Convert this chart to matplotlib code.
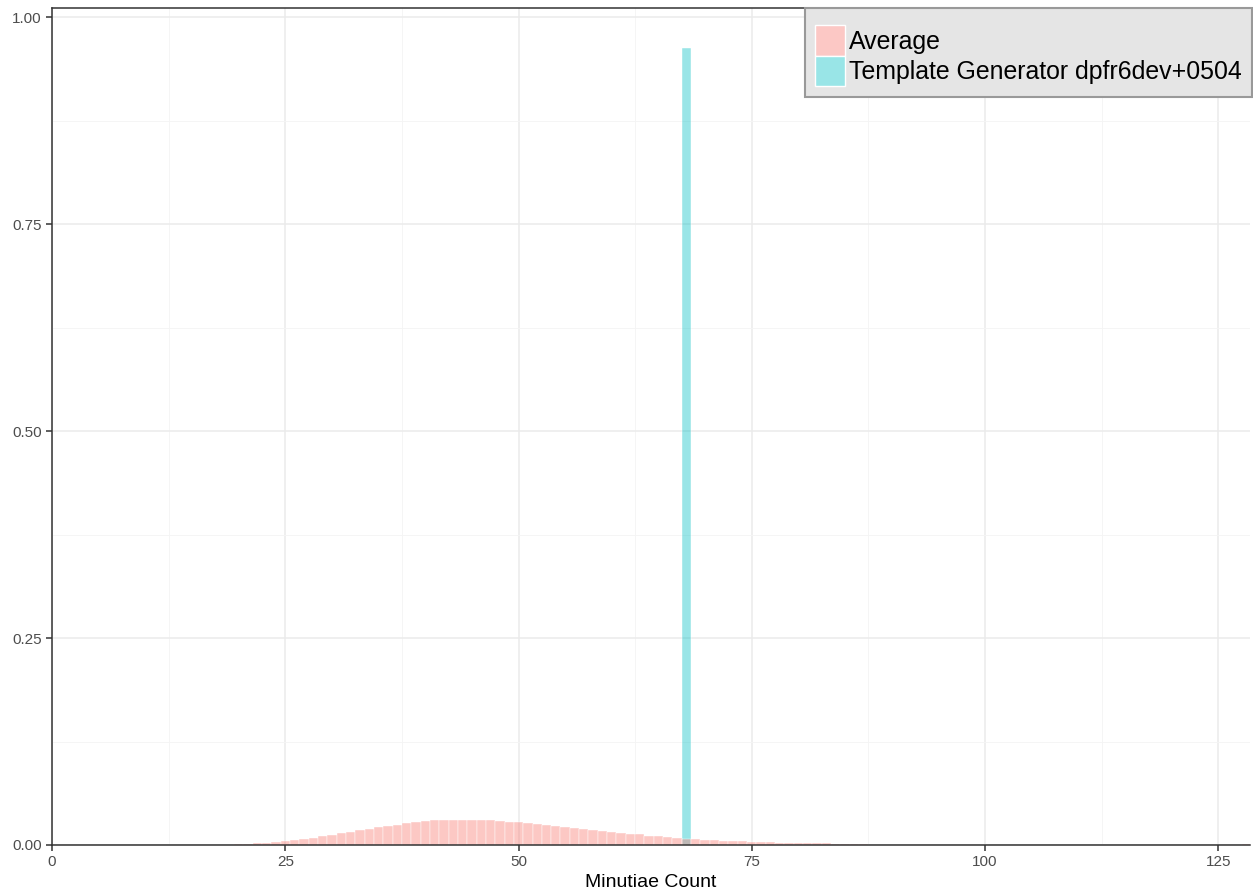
import matplotlib
matplotlib.use("Agg")
import matplotlib.pyplot as plt
from matplotlib.patches import Patch
from matplotlib.ticker import MultipleLocator, FuncFormatter

plt.rcParams['font.family'] = ['Liberation Sans', 'DejaVu Sans']

# histogram de densidade (largura de bin = 1)
avg_bins = [20, 21, 22, 23, 24, 25, 26, 27, 28, 29, 30, 31, 32, 33, 34, 35, 36, 37, 38, 39,
            40, 41, 42, 43, 44, 45, 46, 47, 48, 49, 50, 51, 52, 53, 54, 55, 56, 57, 58, 59,
            60, 61, 62, 63, 64, 65, 66, 67, 68, 69, 70, 71, 72, 73, 74, 75, 76, 77, 78, 79,
            80, 81, 82, 83, 84, 85, 86, 87, 128]
avg_density = [0.0012, 0.0012, 0.0024, 0.0024, 0.0036, 0.0048, 0.0060, 0.0077, 0.0089, 0.0109,
               0.0121, 0.0145, 0.0157, 0.0181, 0.0197, 0.0217, 0.0230, 0.0242, 0.0262, 0.0278,
               0.0290, 0.0302, 0.0302, 0.0302, 0.0302, 0.0302, 0.0302, 0.0298, 0.0286, 0.0274,
               0.0276, 0.0266, 0.0254, 0.0242, 0.0230, 0.0217, 0.0205, 0.0193, 0.0181, 0.0169,
               0.0157, 0.0145, 0.0133, 0.0133, 0.0109, 0.0109, 0.0097, 0.0085, 0.0072, 0.0072,
               0.0060, 0.0060, 0.0048, 0.0048, 0.0048, 0.0036, 0.0036, 0.0036, 0.0024, 0.0024,
               0.0024, 0.0024, 0.0024, 0.0024, 0.0012, 0.0012, 0.0012, 0.0012, 0.0008]

tg_bins = [68]
tg_density = [0.963]

labels = ['Average', 'Template Generator dpfr6dev+0504']
pink = (248/255, 118/255, 109/255, 0.4)
cyan = (0/255, 191/255, 196/255, 0.4)
# mesma cor sobre fundo branco (para a legenda)
pink_key = '#FCC8C5'
cyan_key = '#99E5E7'

W, H = 1253, 892
fig = plt.figure(figsize=(W/100, H/100), dpi=100)
ax = fig.add_axes([52/W, (H-845)/H, (1250-52)/W, (845-8)/H])

ax.bar(tg_bins, tg_density, width=1, color=cyan, edgecolor='white', linewidth=0.3, zorder=2)
ax.bar(avg_bins, avg_density, width=1, color=pink, edgecolor='white', linewidth=0.3, zorder=3)

ax.set_xlim(0, 128.4)
ax.set_ylim(0, 1.011)
ax.xaxis.set_major_locator(MultipleLocator(25))
ax.xaxis.set_minor_locator(MultipleLocator(12.5))
ax.yaxis.set_major_locator(MultipleLocator(0.25))
ax.yaxis.set_minor_locator(MultipleLocator(0.125))
ax.yaxis.set_major_formatter(FuncFormatter(lambda v, p: '%.2f' % v))

ax.grid(which='major', color='#EBEBEB', linewidth=1.1, zorder=0)
ax.grid(which='minor', color='#F4F4F4', linewidth=0.6, zorder=0)
ax.set_axisbelow(True)

for s in ['left', 'bottom', 'top']:
    ax.spines[s].set_color('#333333')
    ax.spines[s].set_linewidth(1.1)
    ax.spines[s].set_zorder(5)
ax.spines['right'].set_visible(False)

ax.tick_params(which='major', length=4, width=1.1, color='#333333',
               labelcolor='#4D4D4D', labelsize=11, pad=3.5)
ax.tick_params(which='minor', length=0)

ax.set_xlabel('Minutiae Count', fontsize=14, color='black', labelpad=3)

handles = [Patch(facecolor=pink_key, edgecolor='white'), Patch(facecolor=cyan_key, edgecolor='white')]
leg = fig.legend(handles, labels, loc='upper right', bbox_to_anchor=(1252/W, 1 - 8/H),
                 fontsize=17.9, frameon=True, fancybox=False, handlelength=1.2,
                 handleheight=1.5, handletextpad=0.16, labelspacing=0.0, borderpad=0.42,
                 borderaxespad=0, title=' ', title_fontsize=5.5)
leg.get_frame().set_facecolor('#E5E5E5')
leg.get_frame().set_edgecolor('#999999')
leg.get_frame().set_linewidth(1.5)
leg.get_frame().set_alpha(None)

fig.savefig('out.png', dpi=100)
